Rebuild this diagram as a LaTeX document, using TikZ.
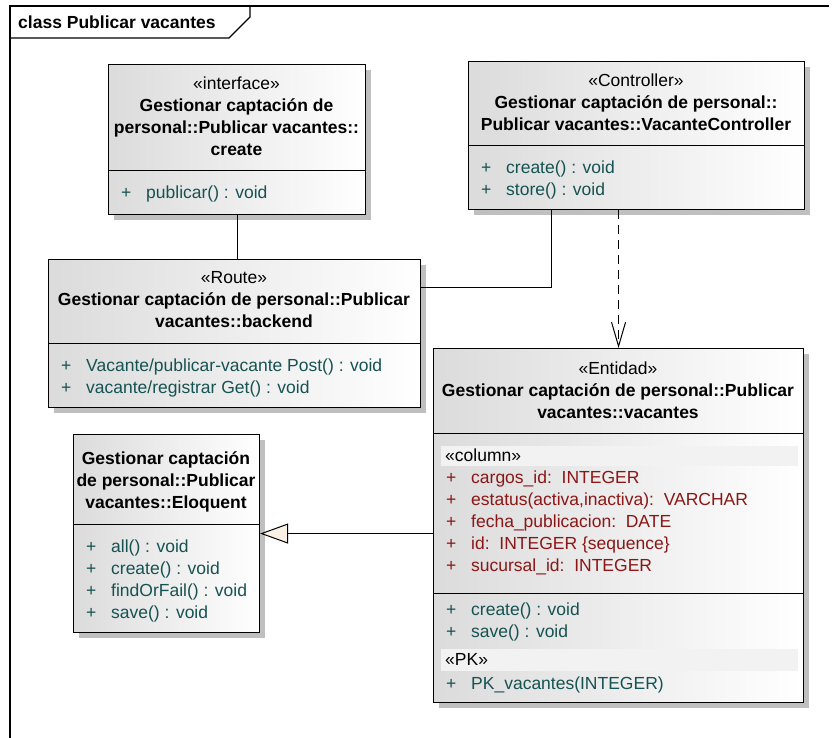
\documentclass[tikz,border=0pt]{standalone}
\usepackage{fontspec}
\setmainfont{Liberation Sans}
\usetikzlibrary{arrows.meta, shadows}
\definecolor{attrred}{RGB}{140,22,22}
\definecolor{opteal}{RGB}{22,82,82}
\definecolor{tipfill}{RGB}{250,240,228}

\begin{document}
\begin{tikzpicture}[x=1pt,y=-1pt,
  classbox/.style={draw, line width=1.1pt, anchor=north west, inner sep=0pt,
    left color=black!14, middle color=white, right color=white,
    drop shadow={shadow xshift=5pt, shadow yshift=-5pt, fill=black!25, opacity=1}},
  title/.style={align=center, inner sep=0pt, font=\fontsize{17.5}{22}\selectfont},
  row/.style={anchor=west, inner sep=0pt, text height=12.5pt, text depth=3.5pt,
    font=\fontsize{17.5}{22}\selectfont},
  oprow/.style={row, text=opteal},
  attrow/.style={row, text=attrred},
  band/.style={fill=black!5},
  conn/.style={line width=1pt}]
\useasboundingbox (0,0) rectangle (835,738);
% frame
\draw[line width=1.2pt] (10,738) -- (10,6) -- (829,6);
\draw[line width=1.2pt] (10,38) -- (229,38) -- (250,17) -- (250,6);
\node[anchor=west, inner sep=0pt, font=\bfseries\fontsize{17.5}{22}\selectfont] (frame-title) at (18,22) {class Publicar vacantes};
% interface create
\node[classbox, minimum width=257pt, minimum height=150pt] (iface) at (108,64) {};
\node[title] (iface-name) at (236.5,116) {«interface»\\\textbf{Gestionar captación de}\\\textbf{personal::Publicar vacantes::}\\\textbf{create}};
\draw[conn] (iface.west |- 0,171) -- (iface.east |- 0,171);
\node[oprow] (iface-op1) at (121,194) {\makebox[25pt][l]{+}publicar() : void};
% controller
\node[classbox, minimum width=336pt, minimum height=148pt] (ctrl) at (468,61) {};
\node[title] (ctrl-name) at (636,102) {«Controller»\\\textbf{Gestionar captación de personal::}\\\textbf{Publicar vacantes::VacanteController}};
\draw[conn] (ctrl.west |- 0,146) -- (ctrl.east |- 0,146);
\node[oprow] (ctrl-op1) at (481,169) {\makebox[25pt][l]{+}create() : void};
\node[oprow] (ctrl-op2) at (481,191) {\makebox[25pt][l]{+}store() : void};
% route backend
\node[classbox, minimum width=372pt, minimum height=148pt] (backend) at (48,259) {};
\node[title] (backend-name) at (234,300) {«Route»\\\textbf{Gestionar captación de personal::Publicar}\\\textbf{vacantes::backend}};
\draw[conn] (backend.west |- 0,343) -- (backend.east |- 0,343);
\node[oprow] (backend-op1) at (61,367) {\makebox[25pt][l]{+}Vacante/publicar-vacante Post() : void};
\node[oprow] (backend-op2) at (61,389) {\makebox[25pt][l]{+}vacante/registrar Get() : void};
% eloquent
\node[classbox, minimum width=186pt, minimum height=198pt] (eloq) at (73,434) {};
\node[title] (eloq-name) at (166,482) {\textbf{Gestionar captación}\\\textbf{de personal::Publicar}\\\textbf{vacantes::Eloquent}};
\draw[conn] (eloq.west |- 0,524) -- (eloq.east |- 0,524);
\node[oprow] (eloq-op1) at (86,548) {\makebox[25pt][l]{+}all() : void};
\node[oprow] (eloq-op2) at (86,570) {\makebox[25pt][l]{+}create() : void};
\node[oprow] (eloq-op3) at (86,592) {\makebox[25pt][l]{+}findOrFail() : void};
\node[oprow] (eloq-op4) at (86,614) {\makebox[25pt][l]{+}save() : void};
% entidad vacantes
\node[classbox, minimum width=370pt, minimum height=354pt] (ent) at (433,348) {};
\node[title] (ent-name) at (618,390) {«Entidad»\\\textbf{Gestionar captación de personal::Publicar}\\\textbf{vacantes::vacantes}};
\draw[conn] (ent.west |- 0,433) -- (ent.east |- 0,433);
\fill[band] (441,446) rectangle (798,466);
\node[row] (ent-col) at (445,457) {«column»};
\node[attrow] (ent-at1) at (446,479) {\makebox[25pt][l]{+}cargos\_id:\ \ INTEGER};
\node[attrow] (ent-at2) at (446,501) {\makebox[25pt][l]{+}estatus(activa,inactiva):\ \ VARCHAR};
\node[attrow] (ent-at3) at (446,523) {\makebox[25pt][l]{+}fecha\_publicacion:\ \ DATE};
\node[attrow] (ent-at4) at (446,545) {\makebox[25pt][l]{+}id:\ \ INTEGER \{sequence\}};
\node[attrow] (ent-at5) at (446,567) {\makebox[25pt][l]{+}sucursal\_id:\ \ INTEGER};
\draw[conn] (ent.west |- 0,593) -- (ent.east |- 0,593);
\node[oprow] (ent-op1) at (446,611) {\makebox[25pt][l]{+}create() : void};
\node[oprow] (ent-op2) at (446,633) {\makebox[25pt][l]{+}save() : void};
\fill[band] (441,649) rectangle (798,671);
\node[row] (ent-pk) at (445,661) {«PK»};
\node[oprow] (ent-pk1) at (446,685) {\makebox[25pt][l]{+}PK\_vacantes(INTEGER)};
% connectors
\draw[conn] (iface.south) -- (iface.south |- backend.north);
\draw[conn] (ctrl.south -| 551,0) |- (backend.east |- 0,287);
\draw[conn, dash pattern=on 9pt off 6pt, -{Straight Barb[length=24pt, width=14pt]}] (ent.north |- ctrl.south) -- (ent.north);
\draw[conn, -{Triangle[open, length=28pt, width=20pt, fill=tipfill]}] (ent.west |- eloq.east) -- (eloq.east);
\end{tikzpicture}
\end{document}
